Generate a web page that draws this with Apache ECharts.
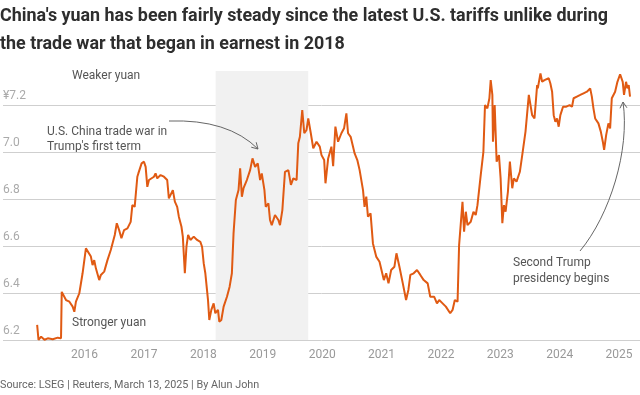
<!DOCTYPE html>
<html>
<head>
<meta charset="utf-8">
<script src="https://cdn.jsdelivr.net/npm/echarts@6/dist/echarts.min.js"></script>
<style>
html,body{margin:0;padding:0;background:#fff;}
#chart{width:640px;height:395px;}
</style>
</head>
<body>
<div id="chart"></div>
<script>
// Decimal-year positions of observations
const years = [
2015.201,2015.224,2015.268,2015.325,2015.380,2015.464,2015.548,2015.603,2015.615,2015.648,
2015.687,2015.744,2015.799,2015.827,2015.854,2015.911,2015.966,2016.022,2016.050,2016.106,
2016.134,2016.162,2016.190,2016.246,2016.274,2016.330,2016.385,2016.441,2016.469,2016.508,
2016.542,2016.581,2016.620,2016.665,2016.721,2016.776,2016.804,2016.843,2016.888,2016.905,
2016.927,2016.960,2017.000,2017.028,2017.056,2017.084,2017.112,2017.168,2017.195,2017.223,
2017.279,2017.336,2017.363,2017.391,2017.419,2017.447,2017.486,2017.520,2017.559,2017.587,
2017.631,2017.654,2017.688,2017.715,2017.743,2017.782,2017.838,2017.894,2017.949,2017.978,
2018.006,2018.033,2018.078,2018.100,2018.134,2018.173,2018.201,2018.246,2018.268,2018.302,
2018.341,2018.397,2018.442,2018.480,2018.508,2018.547,2018.592,2018.619,2018.648,2018.676,
2018.732,2018.787,2018.827,2018.871,2018.916,2018.955,2018.983,2019.028,2019.050,2019.095,
2019.122,2019.151,2019.206,2019.263,2019.290,2019.330,2019.374,2019.431,2019.474,2019.514,
2019.570,2019.598,2019.625,2019.665,2019.699,2019.737,2019.766,2019.809,2019.850,2019.905,
2019.960,2019.989,2020.034,2020.056,2020.101,2020.156,2020.185,2020.223,2020.268,2020.324,
2020.369,2020.408,2020.436,2020.480,2020.520,2020.547,2020.592,2020.631,2020.688,2020.714,
2020.743,2020.771,2020.815,2020.855,2020.910,2020.966,2020.994,2021.039,2021.078,2021.117,
2021.162,2021.217,2021.251,2021.301,2021.358,2021.413,2021.452,2021.485,2021.541,2021.597,
2021.653,2021.710,2021.777,2021.820,2021.887,2021.933,2021.971,2022.028,2022.083,2022.156,
2022.196,2022.234,2022.280,2022.306,2022.363,2022.390,2022.419,2022.447,2022.502,2022.548,
2022.586,2022.615,2022.670,2022.715,2022.742,2022.782,2022.816,2022.838,2022.866,2022.876,
2022.905,2022.938,2022.977,2023.005,2023.034,2023.061,2023.089,2023.128,2023.161,2023.201,
2023.228,2023.273,2023.329,2023.369,2023.424,2023.480,2023.536,2023.575,2023.620,2023.631,
2023.676,2023.704,2023.743,2023.776,2023.815,2023.843,2023.872,2023.899,2023.927,2023.955,
2023.983,2024.011,2024.056,2024.111,2024.167,2024.207,2024.234,2024.290,2024.346,2024.401,
2024.458,2024.513,2024.541,2024.568,2024.597,2024.652,2024.692,2024.726,2024.748,2024.782,
2024.820,2024.849,2024.877,2024.933,2024.972,2025.017,2025.061,2025.083,2025.117,2025.140,
2025.162,2025.184
];
// Yuan per U.S. dollar
const yuan = [
6.264,6.200,6.214,6.201,6.207,6.203,6.210,6.207,6.405,6.399,
6.370,6.363,6.342,6.320,6.363,6.399,6.484,6.590,6.583,6.555,
6.519,6.540,6.505,6.455,6.477,6.491,6.540,6.583,6.590,6.647,
6.697,6.668,6.633,6.668,6.675,6.703,6.774,6.767,6.895,6.909,
6.916,6.952,6.959,6.937,6.852,6.881,6.874,6.895,6.909,6.888,
6.902,6.895,6.902,6.881,6.803,6.796,6.838,6.789,6.767,6.725,
6.682,6.640,6.484,6.597,6.647,6.626,6.640,6.626,6.618,6.597,
6.526,6.484,6.370,6.285,6.328,6.356,6.314,6.328,6.278,6.285,
6.342,6.384,6.427,6.484,6.654,6.796,6.838,6.931,6.810,6.846,
6.881,6.923,6.973,6.937,6.952,6.881,6.909,6.838,6.767,6.782,
6.711,6.689,6.732,6.711,6.689,6.753,6.916,6.923,6.860,6.888,
6.881,7.037,7.065,7.179,7.080,7.094,7.143,7.080,7.016,7.044,
7.023,6.987,6.966,6.867,6.973,7.023,6.940,7.108,7.044,7.080,
7.101,7.165,7.080,7.065,7.023,6.994,6.966,6.923,6.838,6.767,
6.810,6.725,6.739,6.611,6.555,6.533,6.540,6.455,6.484,6.441,
6.498,6.512,6.569,6.512,6.441,6.370,6.413,6.477,6.484,6.498,
6.477,6.455,6.441,6.384,6.384,6.356,6.370,6.356,6.342,6.314,
6.328,6.370,6.363,6.604,6.788,6.661,6.746,6.689,6.703,6.746,
6.732,6.774,6.902,7.001,7.200,7.186,7.229,7.306,7.243,7.044,
7.200,6.959,6.987,6.888,6.697,6.774,6.746,6.831,6.959,6.846,
6.888,6.874,6.916,6.987,7.087,7.243,7.157,7.143,7.285,7.271,
7.335,7.299,7.306,7.314,7.314,7.292,7.257,7.157,7.129,7.143,
7.108,7.157,7.193,7.193,7.200,7.193,7.229,7.236,7.243,7.250,
7.257,7.271,7.236,7.186,7.143,7.122,7.087,7.044,7.009,7.072,
7.122,7.101,7.229,7.257,7.299,7.331,7.299,7.243,7.299,7.271,
7.285,7.236
];
const yearTicks = [2016,2017,2018,2019,2020,2021,2022,2023,2024,2025];
const tradeWar = [2018.206, 2019.766];

const FONT = "Roboto, 'Liberation Sans', sans-serif";
const chart = echarts.init(document.getElementById('chart'), null, {renderer:'canvas'});
const pts = years.map((y,i)=>[y, yuan[i]]);

function arrowHead(x, y, dx, dy, len) {
  const a = Math.atan2(dy, dx);
  const s = Math.PI/6;
  return [[x - len*Math.cos(a - s), y - len*Math.sin(a - s)], [x, y], [x - len*Math.cos(a + s), y - len*Math.sin(a + s)]];
}

chart.setOption({
  animation: false,
  backgroundColor: '#fff',
  title: {
    text: "China's yuan has been fairly steady since the latest U.S. tariffs unlike during\nthe trade war that began in earnest in 2018",
    left: 0, top: 3, padding: 0,
    textStyle: {fontFamily: FONT, fontWeight: 'bold', fontSize: 17.9, lineHeight: 28, color: '#2e2e2e'}
  },
  grid: {left: 0, right: 0, top: 71, bottom: 55, containLabel: false},
  xAxis: {
    type: 'value', min: 2014.626, max: 2025.352,
    axisLine: {show: false}, axisTick: {show: false}, splitLine: {show: false},
    axisLabel: {customValues: yearTicks, formatter: v => String(Math.round(v)), color: '#999', fontSize: 12, fontFamily: FONT, margin: 9}
  },
  yAxis: {
    type: 'value', min: 6.2, max: 7.345, interval: 0.2,
    axisLine: {show: false}, axisTick: {show: false},
    splitLine: {show: true, showMaxLine: false, lineStyle: {color: '#cfcfcf', width: 1}},
    axisLabel: {inside: true, margin: 0, verticalAlign: 'bottom', padding: [0,0,3,0], showMaxLabel: false,
      color: '#aaa', fontSize: 12, fontFamily: FONT,
      formatter: v => Math.abs(v - 7.2) < 1e-6 ? '¥7.2' : v.toFixed(1)}
  },
  series: [{
    type: 'line', data: pts, showSymbol: false, symbol: 'none',
    lineStyle: {color: '#e05a13', width: 2}, z: 3,
    markArea: {silent: true, itemStyle: {color: '#f1f1f1'}, data: [[{xAxis: tradeWar[0]}, {xAxis: tradeWar[1]}]]}
  }],
  graphic: [
    {type:'text', left: 72, top: 70, style:{text:'Weaker yuan', fill:'#555', font: "12px Roboto, sans-serif"}},
    {type:'text', left: 47, top: 124, style:{text:"U.S. China trade war in\nTrump's first term", fill:'#555', lineHeight: 15, font: "12px Roboto, sans-serif"}},
    {type:'text', left: 72, top: 317, style:{text:'Stronger yuan', fill:'#555', font: "12px Roboto, sans-serif"}},
    {type:'text', left: 513, top: 255, style:{text:"Second Trump\npresidency begins", fill:'#555', lineHeight: 16, font: "12px Roboto, sans-serif"}},
    {type:'text', left: 0, top: 380, style:{text:'Source: LSEG | Reuters, March 13, 2025 | By Alun John', fill:'#666', font: "10.8px Roboto, sans-serif"}},
    {type:'bezierCurve', shape:{x1:169, y1:121, cpx1:228, cpy1:119, x2:258, y2:149}, style:{stroke:'#666', lineWidth:1, fill:null}, z: 10},
    {type:'polyline', shape:{points: arrowHead(258,149,30,30,7)}, style:{stroke:'#666', lineWidth:1, fill:null}, z: 10},
    {type:'bezierCurve', shape:{x1:580, y1:251, cpx1:610, cpy1:215, cpx2:630, cpy2:150, x2:623, y2:102}, style:{stroke:'#666', lineWidth:1, fill:null}, z: 10},
    {type:'polyline', shape:{points: arrowHead(623,102,-3,-40,7)}, style:{stroke:'#666', lineWidth:1, fill:null}, z: 10}
  ]
});
</script>
</body>
</html>
